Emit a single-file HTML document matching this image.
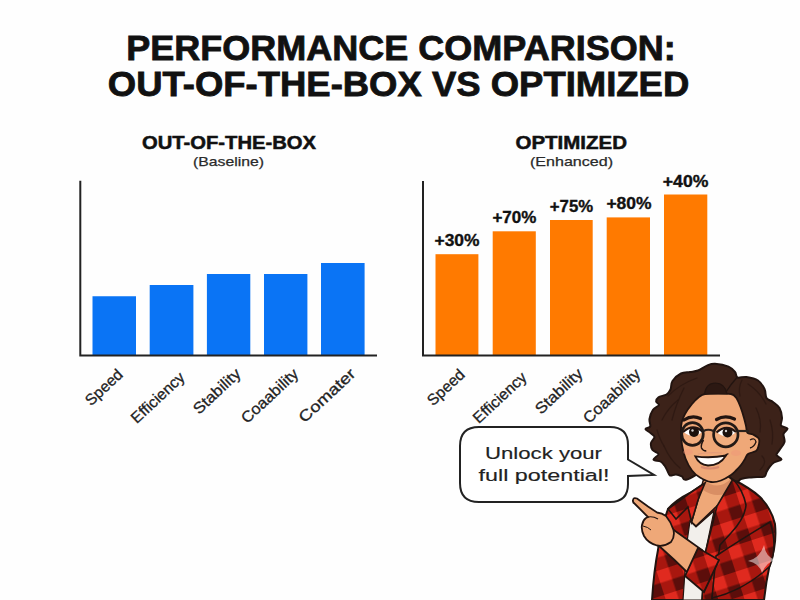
<!DOCTYPE html>
<html><head><meta charset="utf-8">
<style>
html,body{margin:0;padding:0;background:#fefefe;}
body{width:800px;height:600px;overflow:hidden;position:relative;}
svg{position:absolute;left:0;top:0;}
text{font-family:"Liberation Sans",sans-serif;}
</style></head>
<body>
<svg width="800" height="600" viewBox="0 0 800 600">
<rect width="800" height="600" fill="#fefefe"/>
<!-- Title -->
<g fill="#111" stroke="#111" stroke-width="0.8" font-weight="bold" font-size="34.5">
<text x="126.2" y="60.4" textLength="549.5" lengthAdjust="spacingAndGlyphs">PERFORMANCE COMPARISON:</text>
<text x="107.8" y="96.3" textLength="581.5" lengthAdjust="spacingAndGlyphs">OUT-OF-THE-BOX VS OPTIMIZED</text>
</g>
<!-- section titles -->
<g fill="#111" stroke="#111" stroke-width="0.5" font-weight="bold" font-size="18.3">
<text x="142" y="148.75" textLength="174" lengthAdjust="spacingAndGlyphs">OUT-OF-THE-BOX</text>
<text x="515.5" y="148.6" textLength="111.5" lengthAdjust="spacingAndGlyphs">OPTIMIZED</text>
</g>
<g fill="#2a2a2a" stroke="#2a2a2a" stroke-width="0.25" font-size="13.4">
<text x="193" y="166.25" textLength="71" lengthAdjust="spacingAndGlyphs">(Baseline)</text>
<text x="530" y="166" textLength="83" lengthAdjust="spacingAndGlyphs">(Enhanced)</text>
</g>
<!-- left chart -->
<g fill="#0a74f5">
<rect x="92.5" y="296.25" width="43.5" height="59"/>
<rect x="149.7" y="285" width="43.7" height="70"/>
<rect x="206.9" y="274" width="43.4" height="81"/>
<rect x="264" y="274" width="43.4" height="81"/>
<rect x="321" y="263" width="43.6" height="92"/>
</g>
<path d="M80.3 180.75 V355.5 H377" fill="none" stroke="#222" stroke-width="2"/>
<!-- right chart -->
<g fill="#ff7a00">
<rect x="435.5" y="254.2" width="42.9" height="101"/>
<rect x="492.7" y="231.3" width="43.1" height="124"/>
<rect x="550" y="220" width="42.7" height="135"/>
<rect x="606.7" y="217.4" width="43.3" height="138"/>
<rect x="664" y="194.5" width="43.3" height="161"/>
</g>
<path d="M423 181 V355.5 H720" fill="none" stroke="#222" stroke-width="2"/>
<g fill="#111" stroke="#111" stroke-width="0.35" font-weight="bold" font-size="15.9">
<text x="434.5" y="246" textLength="45" lengthAdjust="spacingAndGlyphs">+30%</text>
<text x="492.4" y="222.8" textLength="44" lengthAdjust="spacingAndGlyphs">+70%</text>
<text x="549.8" y="211.6" textLength="43.3" lengthAdjust="spacingAndGlyphs">+75%</text>
<text x="606.4" y="208.8" textLength="45.2" lengthAdjust="spacingAndGlyphs">+80%</text>
<text x="662.8" y="186.6" textLength="45.6" lengthAdjust="spacingAndGlyphs">+40%</text>
</g>
<!-- axis labels -->
<g fill="#222" stroke="#222" stroke-width="0.3" font-size="15.5">
<text transform="translate(91.0,406.5) rotate(-43)" textLength="45" lengthAdjust="spacingAndGlyphs">Speed</text>
<text transform="translate(136.8,424.2) rotate(-43)" textLength="67" lengthAdjust="spacingAndGlyphs">Efficiency</text>
<text transform="translate(199.0,415.0) rotate(-43)" textLength="58.5" lengthAdjust="spacingAndGlyphs">Stability</text>
<text transform="translate(246.9,424.2) rotate(-43)" textLength="72" lengthAdjust="spacingAndGlyphs">Coaability</text>
<text transform="translate(304.6,423.4) rotate(-43)" textLength="71" lengthAdjust="spacingAndGlyphs">Comater</text>
<text transform="translate(433.0,406.5) rotate(-43)" textLength="45" lengthAdjust="spacingAndGlyphs">Speed</text>
<text transform="translate(478.8,424.2) rotate(-43)" textLength="67" lengthAdjust="spacingAndGlyphs">Efficiency</text>
<text transform="translate(541.0,415.0) rotate(-43)" textLength="58.5" lengthAdjust="spacingAndGlyphs">Stability</text>
<text transform="translate(588.9,424.2) rotate(-43)" textLength="72" lengthAdjust="spacingAndGlyphs">Coaability</text>
</g>
<!-- bubble -->
<path d="M479 427 H610 Q628 427 628 445 V459.5 L654 475 L628 476 V484 Q628 502 610 502 H479 Q460 502 460 483 V446 Q460 427 479 427 Z" fill="#fff" stroke="#222" stroke-width="2"/>
<g fill="#222" stroke="#222" stroke-width="0.15" font-size="17.2">
<text x="485" y="458.9" textLength="117" lengthAdjust="spacingAndGlyphs">Unlock your</text>
<text x="478.5" y="481.1" textLength="131" lengthAdjust="spacingAndGlyphs">full potential!</text>
</g>
<!-- character -->
<g id="char">
<defs>
<pattern id="plaid" patternUnits="userSpaceOnUse" width="25" height="25" patternTransform="rotate(-18 720 540)">
<rect width="25" height="25" fill="#e02a1f"/>
<rect x="12.5" y="0" width="12.5" height="25" fill="#a8170f"/>
<rect x="0" y="12.5" width="25" height="12.5" fill="#a8170f"/>
<rect x="12.5" y="12.5" width="12.5" height="12.5" fill="#5c0e0b"/>
</pattern>
</defs>
<path d="M668 509 Q676 500 690 493 L705 483 L734 480 Q750 488 760 497 Q771 508 775 524 Q777 545 770 563 Q766 582 764 600 L652 600 Q654 570 658 550 Q660 530 668 509 Z" fill="url(#plaid)" stroke="#221410" stroke-width="2"/>
<path d="M690 521 L696 527 L714 511 L705 554 L702 600 L683 600 L687 542 Z" fill="#f2efeb" stroke="#221410" stroke-width="1.2"/>
<path d="M705 474 L733 472 L732 500 L717 506 L696 526 L691.5 522 L698 500 Z" fill="#efa878" stroke="#221410" stroke-width="1.6"/>
<path d="M704 480 Q718 492 732 478 L732 490 Q718 500 703 490 Z" fill="#d98e64"/>
<path d="M705 483 L690 493 L668 509 L676 519 L688 507 L691.5 522 L698 500 Z" fill="url(#plaid)" stroke="#221410" stroke-width="1.6"/>
<path d="M733 479 L717 506 L705 554 L702 600 L712 600 L720 545 L731 533 Q745 518 746 505 Q743 490 733 479 Z" fill="url(#plaid)" stroke="#221410" stroke-width="1.6"/>
<path d="M715.0 363.8 C718.6 364.0 725.2 365.2 728.5 366.6 C731.8 368.0 733.5 370.2 735.0 372.0 C736.5 373.8 735.6 376.7 737.5 377.5 C739.4 378.3 743.1 376.5 746.5 377.0 C749.9 377.5 755.0 378.5 758.0 380.5 C761.0 382.5 763.1 386.1 764.5 389.0 C765.9 391.9 765.1 395.8 766.5 398.0 C767.9 400.2 770.8 400.3 773.0 402.0 C775.2 403.7 778.0 405.4 779.5 408.0 C781.0 410.6 781.8 414.8 782.0 417.7 C782.2 420.6 780.1 423.7 781.0 425.5 C781.9 427.3 787.1 427.1 787.5 428.5 C787.9 429.9 784.0 431.8 783.5 434.0 C783.0 436.2 785.2 439.3 784.5 442.0 C783.8 444.7 780.8 447.8 779.5 450.0 C778.2 452.2 776.2 453.4 776.5 455.0 C776.8 456.6 781.9 458.2 781.5 459.5 C781.1 460.8 776.0 461.2 774.0 462.5 C772.0 463.8 770.8 465.4 769.5 467.0 C768.2 468.6 767.3 470.4 766.5 472.0 C765.7 473.6 766.1 475.7 764.5 476.5 C762.9 477.3 759.6 476.8 757.0 477.0 C754.4 477.2 751.7 477.2 749.0 477.5 C746.3 477.8 743.3 478.4 741.0 479.0 C738.7 479.6 739.7 482.8 735.0 481.0 C730.3 479.2 721.0 468.2 713.0 468.0 C705.0 467.8 692.2 478.1 687.0 479.5 C681.8 480.9 683.8 477.3 682.0 476.5 C680.2 475.7 678.0 474.7 676.0 474.5 C674.0 474.3 671.4 476.1 670.0 475.5 C668.6 474.9 668.4 472.7 667.5 471.0 C666.6 469.3 665.7 467.1 664.5 465.5 C663.3 463.9 662.3 462.5 660.5 461.5 C658.7 460.5 653.8 460.8 653.5 459.5 C653.2 458.2 658.7 455.6 658.5 454.0 C658.3 452.4 653.8 451.8 652.5 450.0 C651.2 448.2 650.7 445.2 651.0 443.0 C651.3 440.8 654.6 438.7 654.5 437.0 C654.4 435.3 652.0 434.3 650.5 433.0 C649.0 431.7 645.5 430.1 645.5 429.0 C645.5 427.9 649.5 428.2 650.2 426.5 C650.9 424.8 649.0 421.8 649.5 419.0 C650.0 416.2 651.4 412.0 653.0 409.7 C654.6 407.4 658.5 406.3 659.0 405.0 C659.5 403.7 656.3 403.0 656.2 401.7 C656.1 400.4 656.8 398.4 658.5 397.2 C660.2 396.0 664.5 395.8 666.5 394.5 C668.5 393.2 669.5 391.8 670.5 389.5 C671.5 387.2 670.8 383.7 672.5 381.0 C674.2 378.3 678.1 375.0 681.0 373.5 C683.9 372.0 687.2 372.5 690.0 372.0 C692.8 371.5 695.2 371.6 698.0 370.5 C700.8 369.4 704.2 366.7 707.0 365.6 C709.8 364.5 711.4 363.6 715.0 363.8 Z" fill="#3c2219" stroke="#221410" stroke-width="2"/>
<path d="M711.0 482.0 C707.5 481.5 703.2 479.4 700.0 477.5 C696.8 475.6 694.4 473.7 692.0 470.5 C689.6 467.3 687.2 462.8 685.5 458.5 C683.8 454.2 682.8 449.8 682.0 445.0 C681.2 440.2 681.0 433.8 681.0 430.0 C681.0 426.2 681.1 424.7 681.8 422.0 C682.5 419.3 683.3 417.0 685.0 414.0 C686.7 411.0 689.7 406.8 692.0 404.0 C694.3 401.2 696.8 398.7 699.0 397.0 C701.2 395.3 701.8 394.6 705.0 394.0 C708.2 393.4 713.7 393.3 718.0 393.3 C722.3 393.3 728.0 393.3 731.0 394.0 C734.0 394.7 734.4 395.3 736.0 397.5 C737.6 399.7 739.2 403.6 740.5 407.0 C741.8 410.4 743.1 414.8 744.0 418.0 C744.9 421.2 745.4 423.5 746.0 426.0 C746.6 428.5 746.3 431.6 747.5 433.0 C748.7 434.4 751.1 433.5 753.0 434.5 C754.9 435.5 758.1 437.1 759.0 439.0 C759.9 440.9 759.0 444.0 758.5 446.0 C758.0 448.0 757.8 449.7 756.0 451.0 C754.2 452.3 749.8 452.7 748.0 454.0 C746.2 455.3 746.2 457.2 745.0 459.0 C743.8 460.8 742.5 463.1 741.0 465.0 C739.5 466.9 737.7 468.8 736.0 470.5 C734.3 472.2 733.5 473.3 731.0 475.0 C728.5 476.7 724.3 479.3 721.0 480.5 C717.7 481.7 714.5 482.5 711.0 482.0 Z" fill="#efa878" stroke="#221410" stroke-width="1.8"/>
<path d="M750 440 Q755 437 756 442 Q754 447 750 448" fill="none" stroke="#221410" stroke-width="1.3"/>
<path d="M704.5 394 Q706 383 715.5 383 Q725 383 727 394 Z" fill="#2c1812" stroke="#221410" stroke-width="1.2"/>
<path d="M726 392 Q731 384 737 377.5" fill="none" stroke="#221410" stroke-width="1.4"/>
<path d="M668 396 Q680 384 697 378" fill="none" stroke="#2c1812" stroke-width="1.3" stroke-linecap="round" opacity="0.8"/>
<path d="M662 420 Q668 408 678 400" fill="none" stroke="#2c1812" stroke-width="1.3" stroke-linecap="round" opacity="0.8"/>
<path d="M664 446 Q670 460 680 468" fill="none" stroke="#2c1812" stroke-width="1.3" stroke-linecap="round" opacity="0.8"/>
<path d="M657 430 Q660 440 664 446" fill="none" stroke="#2c1812" stroke-width="1.3" stroke-linecap="round" opacity="0.8"/>
<path d="M748 384 Q760 392 766 404" fill="none" stroke="#2c1812" stroke-width="1.3" stroke-linecap="round" opacity="0.8"/>
<path d="M770 420 Q774 432 772 444" fill="none" stroke="#2c1812" stroke-width="1.3" stroke-linecap="round" opacity="0.8"/>
<path d="M762 456 Q768 462 760 470" fill="none" stroke="#2c1812" stroke-width="1.3" stroke-linecap="round" opacity="0.8"/>
<path d="M742 380 Q738 388 740 396" fill="none" stroke="#2c1812" stroke-width="1.3" stroke-linecap="round" opacity="0.8"/>
<path d="M684 388 Q676 404 672 420" fill="none" stroke="#2c1812" stroke-width="1.3" stroke-linecap="round" opacity="0.8"/>
<path d="M756 408 Q762 420 760 432" fill="none" stroke="#2c1812" stroke-width="1.3" stroke-linecap="round" opacity="0.8"/>
<ellipse cx="688" cy="452" rx="5" ry="3" fill="#f08f78" opacity="0.35"/>
<ellipse cx="736" cy="453" rx="5" ry="3" fill="#f08f78" opacity="0.35"/>
<path d="M684 420 Q692 414.5 700.5 418.5" fill="none" stroke="#221410" stroke-width="3.2" stroke-linecap="round"/>
<path d="M716.5 419.5 Q725 414.5 734.5 419" fill="none" stroke="#221410" stroke-width="3.2" stroke-linecap="round"/>
<ellipse cx="692.5" cy="436" rx="9" ry="7" fill="#f5b98c" opacity="0.35"/>
<ellipse cx="725.8" cy="437" rx="10" ry="8" fill="#f5b98c" opacity="0.35"/>
<path d="M683.5 432 Q693 423 702.5 431.5 Q694 440 683.5 432 Z" fill="#fff"/>
<circle cx="694" cy="432" r="5" fill="#1a100c"/>
<circle cx="692.5" cy="430.5" r="1.2" fill="#fff" opacity="0.8"/>
<path d="M683 432 Q693 423 702.5 431.5" fill="none" stroke="#221410" stroke-width="2.2"/>
<path d="M717.0 432.5 Q726.5 423.5 736.0 432.0 Q727.5 440.5 717.0 432.5 Z" fill="#fff"/>
<circle cx="727.5" cy="432.5" r="5" fill="#1a100c"/>
<circle cx="726.0" cy="431.0" r="1.2" fill="#fff" opacity="0.8"/>
<path d="M716.5 432.5 Q726.5 423.5 736.0 432.0" fill="none" stroke="#221410" stroke-width="2.2"/>
<ellipse cx="692.5" cy="434" rx="10.8" ry="11.4" fill="none" stroke="#231a16" stroke-width="2.7"/>
<ellipse cx="725.8" cy="434.8" rx="12.2" ry="12" fill="none" stroke="#231a16" stroke-width="2.7"/>
<path d="M703.5 431 Q708 428.5 713.5 431" fill="none" stroke="#2a211d" stroke-width="2.2"/>
<path d="M738 431 L749 431" fill="none" stroke="#2a211d" stroke-width="2.2"/>
<path d="M703.5 440 Q700.5 445 701.5 448 Q703 451 706.3 451" fill="none" stroke="#221410" stroke-width="1.5"/>
<path d="M701 467 Q710 470 719 467" fill="none" stroke="#d88a70" stroke-width="2"/>
<path d="M695.3 456.3 Q710.5 458.5 726 455.5 Q720 465.5 708 465.5 Q699 464.5 695.3 456.3 Z" fill="#fff" stroke="#221410" stroke-width="1.8"/>
<path d="M725 456 Q727 453.5 728.5 454" fill="none" stroke="#221410" stroke-width="1.3"/>
<path d="M698 454 Q710 452 722 453" fill="none" stroke="#e0977a" stroke-width="1.2" opacity="0.7"/>
<path d="M671 528 Q688 540 702 550 L690 575 Q675 560 658 545 Z" fill="#efa878" stroke="#221410" stroke-width="1.8"/>
<path d="M716 556 Q740 540 770 522 Q778 545 770 566 Q745 590 712 598 Z" fill="url(#plaid)" stroke="#221410" stroke-width="1.6"/>
<path d="M698 548 L719 560 L704 592 L685 576 Z" fill="url(#plaid)" stroke="#221410" stroke-width="1.8"/>
<path d="M633 500.5 Q633 497 637 498.5 L648 506.5 L657 512.5 Q662 513 666 516 Q671 522 673.5 530 Q675 537 671 542 Q664 547 657 545.5 Q648 543 644 536 Q641 530 642 525 Q643 520 646 518 L648 517 L635 504 Q632.5 502.5 633 500.5 Z" fill="#efa878" stroke="#221410" stroke-width="1.8"/>
<path d="M648 517 Q653 516 658 519" fill="none" stroke="#221410" stroke-width="1.2"/>
<path d="M643 526 Q648 527 651 530" fill="none" stroke="#221410" stroke-width="1"/>
<path d="M764 545 Q766 558 776 560 Q766 562 762 573 Q759 563 748 561 Q760 558 764 545 Z" fill="#ffffff" opacity="0.5"/>
</g>
</svg>
</body></html>
